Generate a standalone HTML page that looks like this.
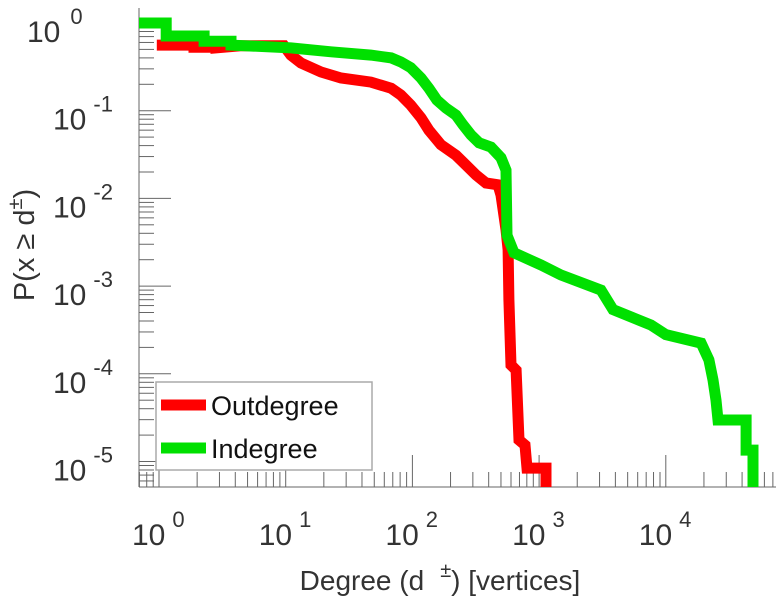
<!DOCTYPE html>
<html><head><meta charset="utf-8"><style>
html,body{margin:0;padding:0;background:#fff;}
svg{display:block;font-family:"Liberation Sans",sans-serif;}
</style></head><body>
<svg id="chart" width="776" height="600">
<defs><clipPath id="clip"><rect x="139" y="8" width="637" height="479"/></clipPath></defs>
<g id="grid"></g>
<g id="series" clip-path="url(#clip)"></g>
<g id="labels"></g>
<text x="440" y="590" font-size="28" fill="#333" text-anchor="middle">Degree (d<tspan dx="16" dy="-13" font-size="20">±</tspan><tspan dy="13">) [vertices]</tspan></text>
<text transform="translate(34,245) rotate(-90)" font-size="29" fill="#333" text-anchor="middle">P(x ≥ d<tspan dy="-12" font-size="20">±</tspan><tspan dy="12">)</tspan></text>
<g>
<rect x="156" y="382" width="216" height="88" fill="#fff" stroke="#aaa" stroke-width="1.5"/>
<line x1="161" y1="405" x2="206" y2="405" stroke="#ff0000" stroke-width="11"/>
<text x="211" y="415" font-size="27" fill="#111">Outdegree</text>
<line x1="161" y1="448" x2="206" y2="448" stroke="#00e000" stroke-width="11"/>
<text x="211" y="458" font-size="27" fill="#111">Indegree</text>
</g>
</svg>
<script>
const xTickExps = [0, 1, 2, 3, 4];
const yTickExps = [0, -1, -2, -3, -4, -5];
const inX = [0.695,1.14,1.14,2.27,2.27,3.7,3.7,11,22.8,47,68,81,97,117,135,156,184,221,251,290,336,417,500,548,558,634,1035,1490,3080,3830,7640,10000,19000,21900,23600,24900,25800,43000,43000,48800,48800];
const inY = [1,1,0.71,0.71,0.62,0.62,0.56,0.52,0.47,0.43,0.40,0.36,0.31,0.236,0.18,0.132,0.107,0.089,0.069,0.053,0.043,0.0385,0.029,0.021,0.0038,0.0024,0.00174,0.00134,0.0009,0.00054,0.00036,0.00028,0.000224,0.000144,0.000085,0.00005,0.0000297,0.0000297,0.0000135,0.0000135,0.000004];
const outX = [0.96,1.89,1.89,2.82,2.82,4.4,9.7,11,13.2,19,27.3,47,68,81,97,117,135,168,221,265,318,381,474,500,548,569,578,600,658,694,774,802,1133,1133];
const outY = [0.56,0.56,0.53,0.53,0.52,0.55,0.55,0.43,0.35,0.276,0.236,0.212,0.18,0.151,0.116,0.083,0.060,0.041,0.031,0.024,0.0185,0.015,0.0143,0.0109,0.0044,0.0026,0.0007,0.000126,0.00011,0.0000176,0.0000154,0.0000084,0.0000084,0.000004];

const NS = "http://www.w3.org/2000/svg";
const X0 = 159, XD = 126.7, Y0 = 23, YD = 87.7, LEFT = 139, BOT = 487, RIGHT = 776, TOP = 8;
function sx(v){ return X0 + Math.log10(v) * XD; }
function sy(v){ return Y0 - Math.log10(v) * YD; }
function mk(tag, attrs, parent){ const e = document.createElementNS(NS, tag); for (const k in attrs) e.setAttribute(k, attrs[k]); parent.appendChild(e); return e; }

const grid = document.getElementById('grid');
const labels = document.getElementById('labels');
let l = mk('line', {x1:LEFT,y1:TOP,x2:LEFT,y2:BOT,stroke:'#999','stroke-width':1.5}, grid);


l = mk('line', {x1:LEFT,y1:BOT,x2:RIGHT,y2:BOT,stroke:'#999','stroke-width':1.5}, grid);



for (let e = -1; e <= 4; e++) {
  for (let m = 1; m <= 9; m++) {
    const v = m * Math.pow(10, e);
    const x = sx(v);
    if (x < LEFT || x > RIGHT) continue;
    const len = m === 1 ? 32 : 15;
    const t = mk('line', {x1:x,y1:BOT,x2:x,y2:BOT-len,stroke:'#666','stroke-width':1}, grid);
    
    
  }
}
xTickExps.forEach(e => {
  const x = sx(Math.pow(10, e));
  const t = mk('text', {x:x-27,y:545,'font-size':30,fill:'#333'}, labels);
  
  
  t.innerHTML = '10<tspan dx="7" dy="-18" font-size="22">' + e + '</tspan>';
});
for (let e = -6; e <= 0; e++) {
  for (let m = 1; m <= 9; m++) {
    const v = m * Math.pow(10, e);
    const y = sy(v);
    if (y < TOP || y > BOT) continue;
    const len = m === 1 ? 32 : 15;
    const t = mk('line', {x1:LEFT,y1:y,x2:LEFT+len,y2:y,stroke:'#666','stroke-width':1}, grid);
    
    
  }
}
yTickExps.forEach(e => {
  const y = sy(Math.pow(10, e));
  const t = mk('text', {x:e < 0 ? 53 : 27,y:y+19,'font-size':30,fill:'#333'}, labels);
  
  
  t.innerHTML = '10<tspan dx="' + (e < 0 ? 7 : 10) + '" dy="-18" font-size="22">' + e + '</tspan>';
});

const series = document.getElementById('series');
function drawSeries(xs, ys, color, name){
  const pts = xs.map((x, i) => sx(x).toFixed(1) + ',' + sy(ys[i]).toFixed(1)).join(' ');
  const p = mk('polyline', {points:pts,fill:'none',stroke:color,'stroke-width':11,'stroke-linejoin':'miter'}, series);
  
  
}
drawSeries(outX, outY, '#ff0000', 'outdegree-line');
drawSeries(inX, inY, '#00e000', 'indegree-line');
</script>
</body></html>
